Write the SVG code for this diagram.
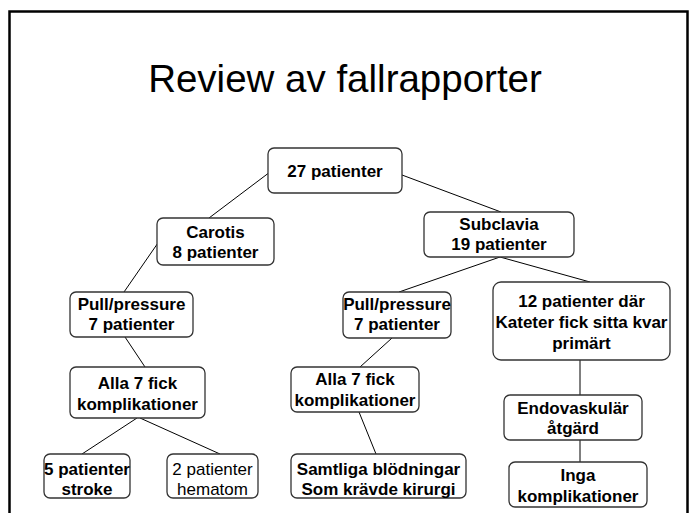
<svg xmlns="http://www.w3.org/2000/svg" width="690" height="513" viewBox="0 0 690 513">
<style>
.box{fill:#fff;stroke:#333;stroke-width:1.3}
.t{font-family:"Liberation Sans",Arial,sans-serif;font-size:17px;font-weight:bold;text-anchor:middle;fill:#000}
.n{font-weight:normal}
.c line{stroke:#000;stroke-width:1}
</style>
<rect x="0" y="0" width="690" height="513" fill="#fff"/>
<path d="M9.5 520 V11.5 H687.5 V520" fill="none" stroke="#000" stroke-width="2.5"/>
<text x="345" y="92" font-family="Liberation Sans,Arial,sans-serif" font-size="38.5" text-anchor="middle">Review av fallrapporter</text>
<g class="c" id="connectors">
<line x1="270" y1="172" x2="209" y2="218"/>
<line x1="402" y1="175" x2="501" y2="212"/>
<line x1="160" y1="240" x2="124" y2="292"/>
<line x1="125" y1="337" x2="145" y2="367"/>
<line x1="137" y1="418" x2="82" y2="454"/>
<line x1="140" y1="418" x2="220" y2="454"/>
<line x1="500" y1="257" x2="399" y2="292"/>
<line x1="500" y1="257" x2="590" y2="282"/>
<line x1="392" y1="338" x2="360" y2="367"/>
<line x1="359" y1="412" x2="376" y2="454"/>
<line x1="580" y1="360" x2="580" y2="395"/>
<line x1="580" y1="440" x2="580" y2="462"/>
</g>
<g id="n27"><rect class="box" x="268" y="148" width="134" height="45" rx="6"/><text class="t" x="335" y="177">27 patienter</text></g>
<g id="carotis"><rect class="box" x="157" y="218" width="117" height="47" rx="6"/><text class="t" x="215.5" y="238">Carotis</text><text class="t" x="215.5" y="258">8 patienter</text></g>
<g id="subclavia"><rect class="box" x="424" y="212" width="150" height="45" rx="6"/><text class="t" x="499" y="230">Subclavia</text><text class="t" x="499" y="250">19 patienter</text></g>
<g id="pull1"><rect class="box" x="70" y="292" width="123" height="45" rx="6"/><text class="t" x="131.5" y="310">Pull/pressure</text><text class="t" x="131.5" y="330">7 patienter</text></g>
<g id="pull2"><rect class="box" x="343" y="292" width="108" height="46" rx="6"/><text class="t" x="397" y="310">Pull/pressure</text><text class="t" x="397" y="330">7 patienter</text></g>
<g id="n12"><rect class="box" x="493" y="282" width="177" height="78" rx="8"/><text class="t" x="581.5" y="307">12 patienter där</text><text class="t" x="581.5" y="328">Kateter fick sitta kvar</text><text class="t" x="581.5" y="349">primärt</text></g>
<g id="alla1"><rect class="box" x="70" y="367" width="135" height="51" rx="6"/><text class="t" x="137.5" y="389">Alla 7 fick</text><text class="t" x="137.5" y="410">komplikationer</text></g>
<g id="alla2"><rect class="box" x="291" y="367" width="128" height="45" rx="6"/><text class="t" x="355" y="385">Alla 7 fick</text><text class="t" x="355" y="406">komplikationer</text></g>
<g id="endo"><rect class="box" x="504" y="395" width="138" height="45" rx="6"/><text class="t" x="573" y="414">Endovaskulär</text><text class="t" x="573" y="434">åtgärd</text></g>
<g id="stroke"><rect class="box" x="44" y="454" width="86" height="44" rx="6"/><text class="t" x="87" y="475">5 patienter</text><text class="t" x="87" y="495">stroke</text></g>
<g id="hematom"><rect class="box" x="167" y="454" width="91" height="44" rx="6"/><text class="t n" x="212.5" y="475">2 patienter</text><text class="t n" x="212.5" y="495">hematom</text></g>
<g id="samtliga"><rect class="box" x="291" y="454" width="175" height="44" rx="6"/><text class="t" x="378.5" y="475">Samtliga blödningar</text><text class="t" x="378.5" y="495">Som krävde kirurgi</text></g>
<g id="inga"><rect class="box" x="509" y="462" width="138" height="45" rx="6"/><text class="t" x="578" y="481">Inga</text><text class="t" x="578" y="502">komplikationer</text></g>
</svg>
